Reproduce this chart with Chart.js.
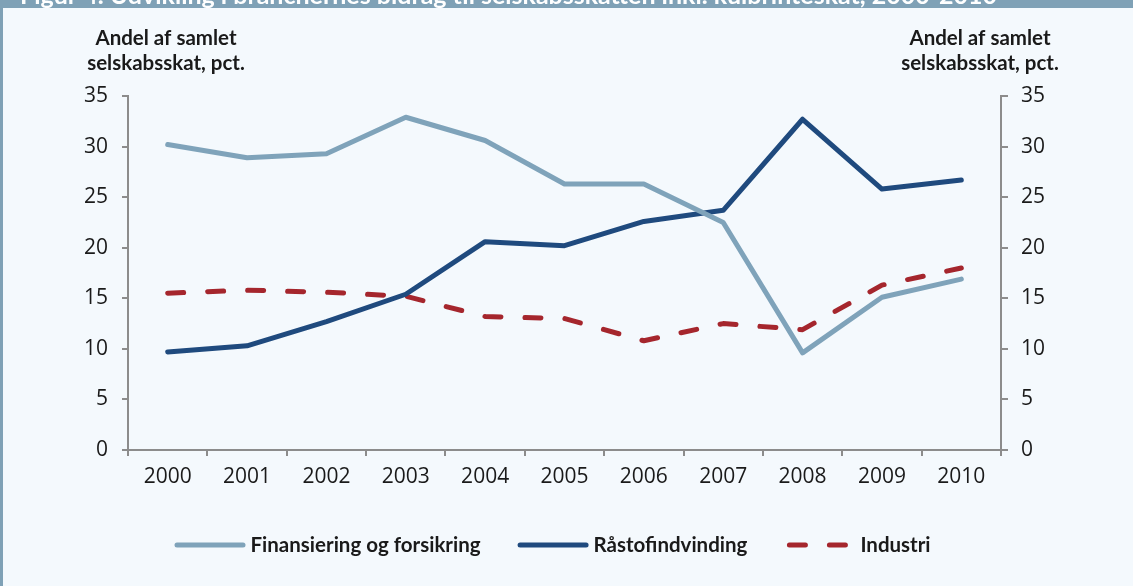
<!DOCTYPE html>
<html>
<head>
    <meta charset="UTF-8">
    <title>selskabsskat</title>
    <script src="https://cdn.jsdelivr.net/npm/chart.js"></script>
    <style>
        body { margin: 0; background: #f4f9fd; }
        canvas { display: block; }
    </style>
</head>
<body>
    <canvas id="taxChart" width="1133" height="586"></canvas>

    <script>
        // data
        var years = ['2000', '2001', '2002', '2003', '2004', '2005', '2006', '2007', '2008', '2009', '2010'];
        var finansiering = [30.2, 28.9, 29.3, 32.9, 30.6, 26.3, 26.3, 22.5, 9.6, 15.1, 16.9];
        var raastof = [9.7, 10.3, 12.7, 15.4, 20.6, 20.2, 22.6, 23.7, 32.7, 25.8, 26.7];
        var industri = [15.5, 15.8, 15.6, 15.2, 13.2, 13.0, 10.8, 12.5, 11.9, 16.3, 18.0];
        var seriesNames = ['Finansiering og forsikring', 'Råstofindvinding', 'Industri'];
        var axisTitle = ['Andel af samlet', 'selskabsskat, pct.'];
        var figTitle = 'Figur 4. Udvikling i branchernes bidrag til selskabsskatten inkl. kulbrinteskat, 2000-2010';

        var axisGrey = '#8c8c8c';
        var textCol = '#1a1a1a';

        var framePlugin = {
            id: 'frame',
            beforeDraw: function(chart) {
                var ctx = chart.ctx;
                ctx.save();
                ctx.fillStyle = '#f4f9fd';
                ctx.fillRect(0, 0, chart.width, chart.height);
                ctx.fillStyle = '#7fa1b6';
                ctx.fillRect(0, 0, chart.width, 8);
                ctx.fillRect(0, 0, 3, chart.height);
                ctx.beginPath();
                ctx.rect(0, 0, chart.width, 8);
                ctx.clip();
                ctx.fillStyle = '#ffffff';
                ctx.font = 'bold 25px Lato';
                ctx.textBaseline = 'alphabetic';
                ctx.fillText(figTitle, 20, 4);
                ctx.restore();
            },
            afterDraw: function(chart) {
                var ctx = chart.ctx;
                var yl = chart.scales.y, yr = chart.scales.y2;
                ctx.save();
                // axis titles
                ctx.fillStyle = textCol;
                ctx.font = 'bold 20.5px Lato';
                ctx.textAlign = 'center';
                ctx.textBaseline = 'middle';
                for (var i = 0; i < axisTitle.length; i++) {
                    ctx.fillText(axisTitle[i], yl.right + 38, 38 + i * 25);
                    ctx.fillText(axisTitle[i], yr.left - 21, 38 + i * 25);
                }
                // legend
                var x = 174.5, y = 545;
                chart.data.datasets.forEach(function(ds) {
                    ctx.save();
                    ctx.strokeStyle = ds.borderColor;
                    ctx.lineWidth = 5;
                    ctx.lineCap = 'round';
                    ctx.setLineDash(ds.borderDash || []);
                    ctx.lineDashOffset = ds.borderDash ? -2.5 : 0;
                    ctx.beginPath();
                    ctx.moveTo(x + 2.5, y);
                    ctx.lineTo(x + 68.5, y);
                    ctx.stroke();
                    ctx.restore();
                    ctx.font = 'bold 20.5px Lato';
                    ctx.textAlign = 'left';
                    ctx.fillStyle = textCol;
                    ctx.fillText(ds.label, x + 76, y);
                    x += 76 + ctx.measureText(ds.label).width + 37;
                });
                ctx.restore();
            }
        };

        function createTaxChart() {
            var ctx = document.getElementById('taxChart').getContext('2d');
            var tickFont = { family: 'Open Sans', size: 21 };
            new Chart(ctx, {
                type: 'line',
                data: {
                    labels: years,
                    datasets: [{
                        label: seriesNames[0],
                        data: finansiering,
                        borderColor: '#7fa3ba',
                        borderWidth: 5
                    }, {
                        label: seriesNames[1],
                        data: raastof,
                        borderColor: '#1f4a7e',
                        borderWidth: 5
                    }, {
                        label: seriesNames[2],
                        data: industri,
                        borderColor: '#a5262d',
                        borderWidth: 5,
                        borderDash: [16, 24],
                        borderCapStyle: 'round'
                    }]
                },
                options: {
                    responsive: false,
                    animation: false,
                    devicePixelRatio: 1,
                    layout: { padding: { top: 96, left: 0, right: 0, bottom: 0 } },
                    elements: {
                        point: { radius: 0 },
                        line: { tension: 0, borderJoinStyle: 'round', borderCapStyle: 'round' }
                    },
                    plugins: {
                        legend: { display: false },
                        tooltip: { enabled: false }
                    },
                    scales: {
                        x: {
                            offset: true,
                            grid: { offset: true, drawOnChartArea: false, color: axisGrey, lineWidth: 2, tickLength: 6 },
                            border: { color: axisGrey, width: 2 },
                            ticks: { color: textCol, font: tickFont, padding: 8, maxRotation: 0 },
                            afterFit: function(scale) { scale.height = 136; }
                        },
                        y: {
                            position: 'left',
                            min: 0, max: 35,
                            ticks: { stepSize: 5, color: textCol, font: tickFont, padding: 14 },
                            grid: { drawOnChartArea: false, color: axisGrey, lineWidth: 2, tickLength: 6 },
                            border: { color: axisGrey, width: 2 },
                            afterFit: function(scale) { scale.width = 128; }
                        },
                        y2: {
                            position: 'right',
                            min: 0, max: 35,
                            ticks: { stepSize: 5, color: textCol, font: tickFont, padding: 13 },
                            grid: { drawOnChartArea: false, color: axisGrey, lineWidth: 2, tickLength: 7 },
                            border: { color: axisGrey, width: 2 },
                            afterFit: function(scale) { scale.width = 132; }
                        }
                    }
                },
                plugins: [framePlugin]
            });
        }
        createTaxChart();
    </script>
</body>
</html>
